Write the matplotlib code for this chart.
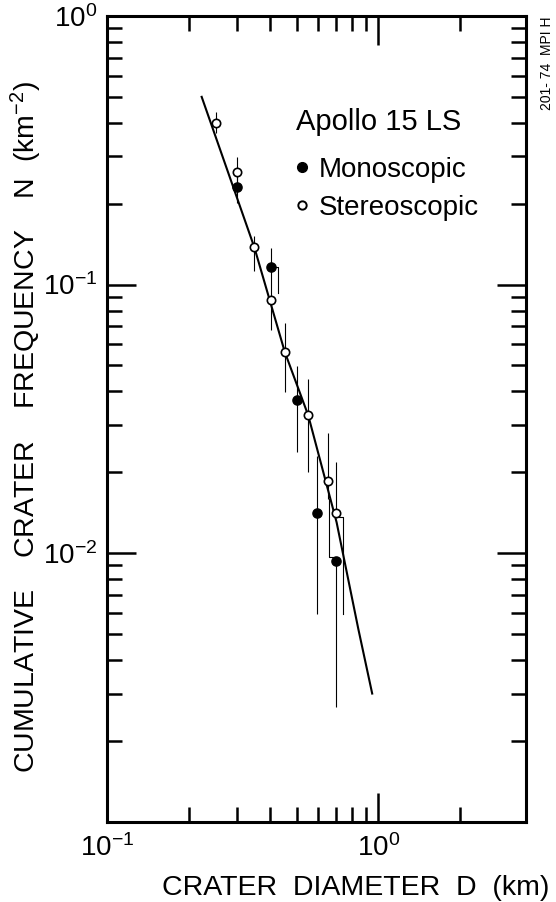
import matplotlib
matplotlib.use('Agg')
import matplotlib.pyplot as plt
from matplotlib.lines import Line2D
import numpy as np

plt.rcParams['font.family'] = ['Liberation Sans', 'DejaVu Sans']
plt.rcParams['mathtext.fontset'] = 'custom'
plt.rcParams['mathtext.rm'] = 'Liberation Sans'
plt.rcParams['mathtext.it'] = 'Liberation Sans'
plt.rcParams['xtick.direction'] = 'in'
plt.rcParams['ytick.direction'] = 'in'

############################################
# Data
# stereoscopic counts (open circles)
D_stereo = [0.252, 0.302, 0.349, 0.401, 0.452, 0.552, 0.651, 0.700]
N_stereo = [0.401, 0.263, 0.1375, 0.0877, 0.0561, 0.0326, 0.01864, 0.01405]
N_stereo_lo = [0.367, 0.230, 0.112, 0.068, 0.0397, 0.0201, 0.0159, 0.01405]
N_stereo_hi = [0.438, 0.2996, 0.151, 0.113, 0.0722, 0.0444, 0.0279, 0.0219]

# monoscopic counts (filled circles)
D_mono = [0.302, 0.401, 0.4995, 0.595, 0.697]
N_mono = [0.2317, 0.116, 0.0372, 0.01408, 0.00932]
N_mono_lo = [0.201, 0.116, 0.0238, 0.00595, 0.00268]
N_mono_hi = [0.267, 0.137, 0.0497, 0.0230, 0.00932]

# offset error bars drawn beside crowded points
bracket_D = [0.401, 0.428, 0.428]
bracket_N = [0.116, 0.116, 0.0931]
box_left_D = [0.659, 0.659, 0.690]
box_left_N = [0.0159, 0.00966, 0.00966]
box_right_D = [0.700, 0.743, 0.743]
box_right_N = [0.0136, 0.0136, 0.00595]

# drawn production function
fit_D = [0.223, 0.349, 0.452, 0.5515, 0.702, 0.844, 0.950]
fit_N = [0.500, 0.1375, 0.0561, 0.0326, 0.01303, 0.00523, 0.0030]

x_major = [0.1, 1.0]
x_minor = [0.2, 0.3, 0.4, 0.5, 0.6, 0.7, 0.8, 0.9, 2.0]
y_major = [1e-3, 1e-2, 1e-1, 1.0]
y_major_labels = ['', r'$10^{-2}$', r'$10^{-1}$', r'$10^{0}$']
x_major_labels = [r'$10^{-1}$', r'$10^{0}$']
############################################


def Plot(plot_name):
  W, H = 556., 902.
  fig = plt.figure(figsize=(W/100, H/100), dpi=100)
  ax = fig.add_axes([107.3/W, 1-821.7/H, (526.3-107.3)/W, (821.7-16.0)/H])
  ax.set_xscale('log')
  ax.set_yscale('log')
  ax.set_xlim(0.1, 3.52)
  ax.set_ylim(1e-3, 1.0)

  # fitted curve
  ax.plot(fit_D, fit_N, color='black', lw=1.5, zorder=2)

  # error bars
  st_err = [np.array(N_stereo) - np.array(N_stereo_lo), np.array(N_stereo_hi) - np.array(N_stereo)]
  mo_err = [np.array(N_mono) - np.array(N_mono_lo), np.array(N_mono_hi) - np.array(N_mono)]
  ax.errorbar(D_stereo, N_stereo, yerr=st_err, fmt='none', ecolor='black', elinewidth=0.8, capsize=0, zorder=1)
  ax.errorbar(D_mono, N_mono, yerr=mo_err, fmt='none', ecolor='black', elinewidth=0.8, capsize=0, zorder=1)
  for xs, ys in [(bracket_D, bracket_N), (box_left_D, box_left_N), (box_right_D, box_right_N)]:
    ax.plot(xs, ys, color='black', lw=0.8, zorder=1)

  # points
  ax.plot(D_stereo, N_stereo, 'o', ms=6.0, mfc='white', mec='black', mew=1.2, zorder=3, linestyle='none')
  ax.plot(D_mono, N_mono, 'o', ms=6.6, mfc='black', mec='black', mew=1.0, zorder=3, linestyle='none')

  # ticks
  ax.set_xticks(x_major)
  ax.set_xticklabels(x_major_labels)
  ax.set_xticks(x_minor, minor=True)
  ax.set_xticklabels([], minor=True)
  ax.set_yticks(y_major)
  ax.set_yticklabels(y_major_labels)
  y_minor = [m*10.0**e for e in (-3, -2, -1) for m in range(2, 10)]
  ax.set_yticks(y_minor, minor=True)
  ax.set_yticklabels([], minor=True)
  ax.tick_params(which='both', top=True, right=True, width=1.8)
  ax.tick_params(which='major', length=21, labelsize=20)
  ax.tick_params(axis='x', which='major', pad=9)
  ax.tick_params(axis='y', which='major', pad=7)
  ax.tick_params(which='minor', length=11)
  for s in ax.spines.values():
    s.set_linewidth(2.2)

  ax.set_xlabel('CRATER  DIAMETER  D  (km)', fontsize=20.5)
  ax.xaxis.set_label_coords(0.594, -0.066)
  ax.set_ylabel(r'CUMULATIVE    CRATER    FREQUENCY    N  (km$^{-2}$)', fontsize=20.5)
  ax.yaxis.set_label_coords(-0.152, 0.49)

  # legend
  ax.text(296/W, 1-122/H, 'Apollo 15 LS', transform=fig.transFigure, va='center', ha='left', fontsize=21)
  handles = [Line2D([], [], marker='o', ls='none', ms=7.0, mfc='black', mec='black'),
             Line2D([], [], marker='o', ls='none', ms=6.0, mfc='white', mec='black', mew=1.4)]
  ax.legend(handles, ['Monoscopic', 'Stereoscopic'],
            loc='upper left', bbox_to_anchor=(281.0/W, 1-143.0/H), bbox_transform=fig.transFigure,
            frameon=False, fontsize=20, borderpad=0, handlelength=0.5,
            handletextpad=0.35, labelspacing=0.42)

  fig.text(547/W, 1-17/H, '201- 74  MPI H', rotation=90, ha='center', va='top', fontsize=10)

  fig.savefig(plot_name, dpi=100)


if __name__ == '__main__':
  Plot('out.png')
